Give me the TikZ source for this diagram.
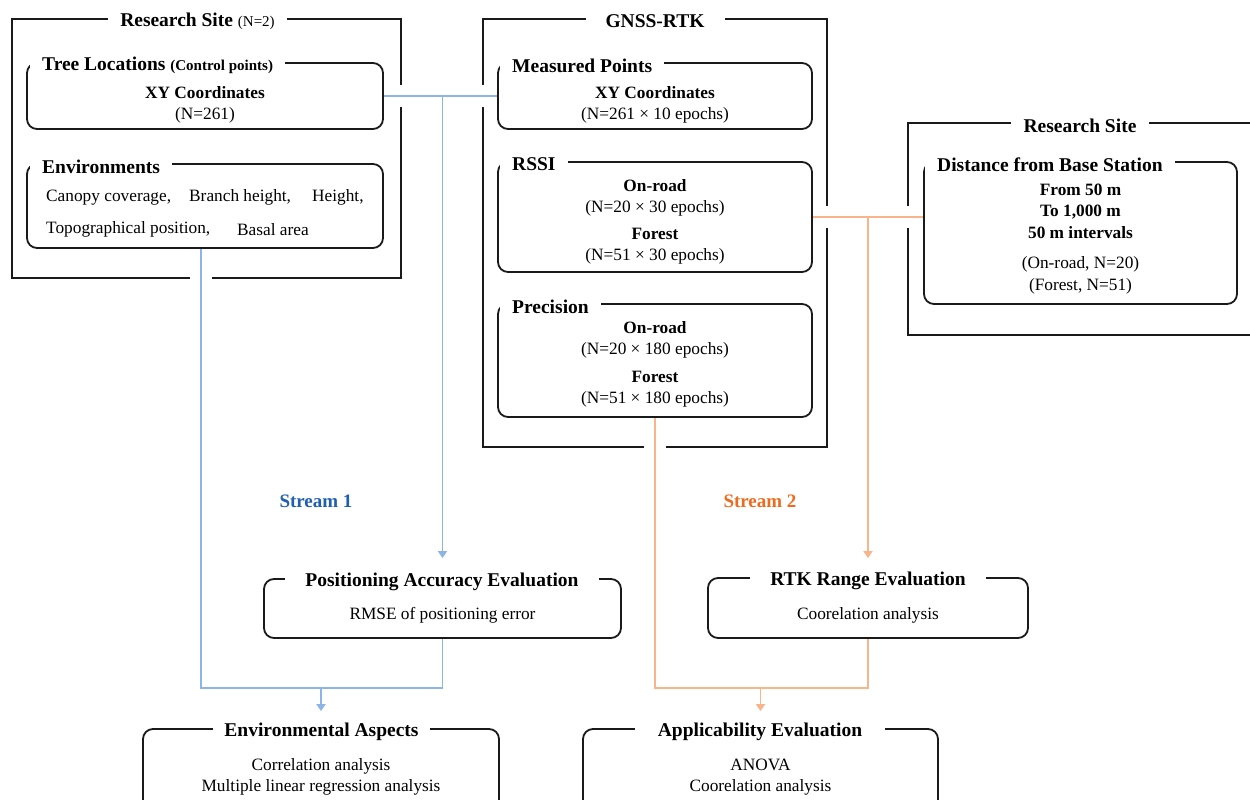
\documentclass[tikz,border=0pt]{standalone}
\usepackage{fontspec}
\setmainfont{Liberation Serif}
\usetikzlibrary{arrows.meta}
\definecolor{bline}{HTML}{8DB4E6}
\definecolor{oline}{HTML}{F8B48A}
\definecolor{btext}{HTML}{1F5FAF}
\definecolor{otext}{HTML}{EE6A1F}
\definecolor{ink}{HTML}{1A1A1A}
\pgfdeclarelayer{bg}
\pgfdeclarelayer{halo}
\pgfsetlayers{bg,halo,main}
\tikzset{
  frame/.style={draw=ink,line width=1.5pt,inner sep=0pt,rectangle},
  rbox/.style={draw=ink,line width=1.8pt,rounded corners=10pt,inner sep=0pt,rectangle},
  ttl/.style={fill=white,inner ysep=2pt,inner xsep=12pt,yshift=-2.5pt,font=\fontsize{19.5}{22}\selectfont\bfseries},
  txt/.style={font=\fontsize{17.3}{21.5}\selectfont,align=center,inner sep=0pt,yshift=-2.5pt},
  halo/.style={draw=white,line width=22pt},
  bconn/.style={draw=bline,line width=1.9pt},
  oconn/.style={draw=oline,line width=1.9pt},
  barrow/.style={bconn,-{Triangle[width=9pt,length=7pt]}},
  oarrow/.style={oconn,-{Triangle[width=9pt,length=7pt]}},
  stream/.style={font=\fontsize{19}{22}\selectfont\bfseries}
}
\begin{document}
\begin{tikzpicture}[x=1pt,y=-1pt]
\useasboundingbox (0,0) rectangle (1250,800);
\clip (0,0) rectangle (1250,800);

% outer frames
\begin{pgfonlayer}{bg}
\node[frame,minimum width=389pt,minimum height=259pt] (fA) at (206.5,148.5) {};
\node[frame,minimum width=344pt,minimum height=428pt] (fB) at (655,233) {};
\node[frame,minimum width=357pt,minimum height=212pt] (fC) at (1086.5,229) {};
\end{pgfonlayer}

% rounded boxes
\node[rbox,minimum width=356pt,minimum height=66pt] (tree) at (205,96) {};
\node[rbox,minimum width=356pt,minimum height=84pt] (env) at (205,206) {};
\node[rbox,minimum width=314pt,minimum height=66pt] (meas) at (655,96) {};
\node[rbox,minimum width=314pt,minimum height=110pt] (rssi) at (655,217) {};
\node[rbox,minimum width=314pt,minimum height=113pt] (prec) at (655,360.5) {};
\node[rbox,minimum width=313pt,minimum height=142pt] (dist) at (1080.5,233) {};
\node[rbox,minimum width=357pt,minimum height=59pt] (pos) at (442.5,608.5) {};
\node[rbox,minimum width=320pt,minimum height=60pt] (rtk) at (868,608) {};
\node[rbox,minimum width=356pt,minimum height=111pt] (envasp) at (321,784.5) {};
\node[rbox,minimum width=355pt,minimum height=111pt] (appl) at (760.5,784.5) {};

% junction coordinates
\coordinate (bj) at (321,688);
\coordinate (oj) at (760.5,688);

% halos (gaps in the outer frames)
\begin{pgfonlayer}{halo}
\draw[halo] (tree.east) -- (meas.west);
\draw[halo] ([xshift=-4pt]env.south) -- ([xshift=-4pt]env.south |- bj);
\draw[halo] (rssi.east) -- (rssi.east -| dist.west);
\draw[halo] (prec.south) -- (prec.south |- oj);
\end{pgfonlayer}

% blue connectors
\draw[bconn] (tree.east) -- (meas.west);
\draw[barrow] (tree.east -| pos.north) -- ([yshift=20pt]pos.north);
\draw[bconn] ([xshift=-4pt]env.south) |- (bj) -| (pos.south);
\draw[barrow] (bj) -- ([yshift=17pt]envasp.north);

% orange connectors
\draw[oconn] (rssi.east) -- (rssi.east -| dist.west);
\draw[oarrow] (rssi.east -| rtk.north) -- ([yshift=19pt]rtk.north);
\draw[oconn] (prec.south) |- (oj) -| (rtk.south);
\draw[oarrow] (oj) -- ([yshift=17pt]appl.north);

% frame titles
\node[ttl] (tA) at (197.5,19) {Research Site {\fontsize{15}{17}\selectfont\mdseries (N=2)}};
\node[ttl,inner xsep=20pt] (tB) at (655,19) {GNSS-RTK};
\node[ttl,inner xsep=13pt] (tC) at (1080,123) {Research Site};

% box titles
\node[ttl,anchor=west] (ttree) at (30,63) {Tree Locations {\fontsize{15}{17}\selectfont (Control points)}};
\node[ttl,anchor=west] (tenv) at (30,164) {Environments};
\node[ttl,anchor=west] (tmeas) at (500,63) {Measured Points};
\node[ttl,anchor=west] (trssi) at (500,162) {RSSI};
\node[ttl,anchor=west] (tprec) at (500,304) {Precision};
\node[ttl,anchor=west] (tdist) at (925,162) {Distance from Base Station};
\node[ttl,inner xsep=20pt] (tpos) at (442,579) {Positioning Accuracy Evaluation};
\node[ttl,inner xsep=20pt] (trtk) at (868,578) {RTK Range Evaluation};
\node[ttl,inner xsep=11pt] (tenvasp) at (321.5,729) {Environmental Aspects};
\node[ttl,inner xsep=23pt] (tappl) at (760,729) {Applicability Evaluation};

% box contents
\node[txt] (ctree) at (205,102.5) {{\bfseries XY Coordinates}\\(N=261)};
\node[txt,anchor=west] (cenv1) at (46,195) {Canopy coverage,};
\node[txt,anchor=west] (cenv2) at (189,195) {Branch height,};
\node[txt,anchor=west] (cenv3) at (312,195) {Height,};
\node[txt,anchor=west] (cenv4) at (46,227) {Topographical position,};
\node[txt,anchor=west] (cenv5) at (237,227) {Basal area};
\node[txt] (cmeas) at (655,102.5) {{\bfseries XY Coordinates}\\(N=261 × 10 epochs)};
\node[txt] (crssi) at (655,219.5) {{\bfseries On-road}\\(N=20 × 30 epochs)\\[5pt]{\bfseries Forest}\\(N=51 × 30 epochs)};
\node[txt] (cprec) at (655,362) {{\bfseries On-road}\\(N=20 × 180 epochs)\\[6pt]{\bfseries Forest}\\(N=51 × 180 epochs)};
\node[txt] (cdist) at (1080.5,236.5) {{\bfseries From 50 m}\\{\bfseries To 1,000 m}\\{\bfseries 50 m intervals}\\[9pt](On-road, N=20)\\(Forest, N=51)};
\node[txt] (cpos) at (442.5,613) {RMSE of positioning error};
\node[txt] (crtk) at (868,613) {Coorelation analysis};
\node[txt] (cenvasp) at (321,774.5) {Correlation analysis\\Multiple linear regression analysis};
\node[txt] (cappl) at (760.5,774.5) {ANOVA\\Coorelation analysis};

% stream labels
\node[stream,text=btext] (s1) at (316,501) {Stream 1};
\node[stream,text=otext] (s2) at (760,501) {Stream 2};
\end{tikzpicture}
\end{document}
